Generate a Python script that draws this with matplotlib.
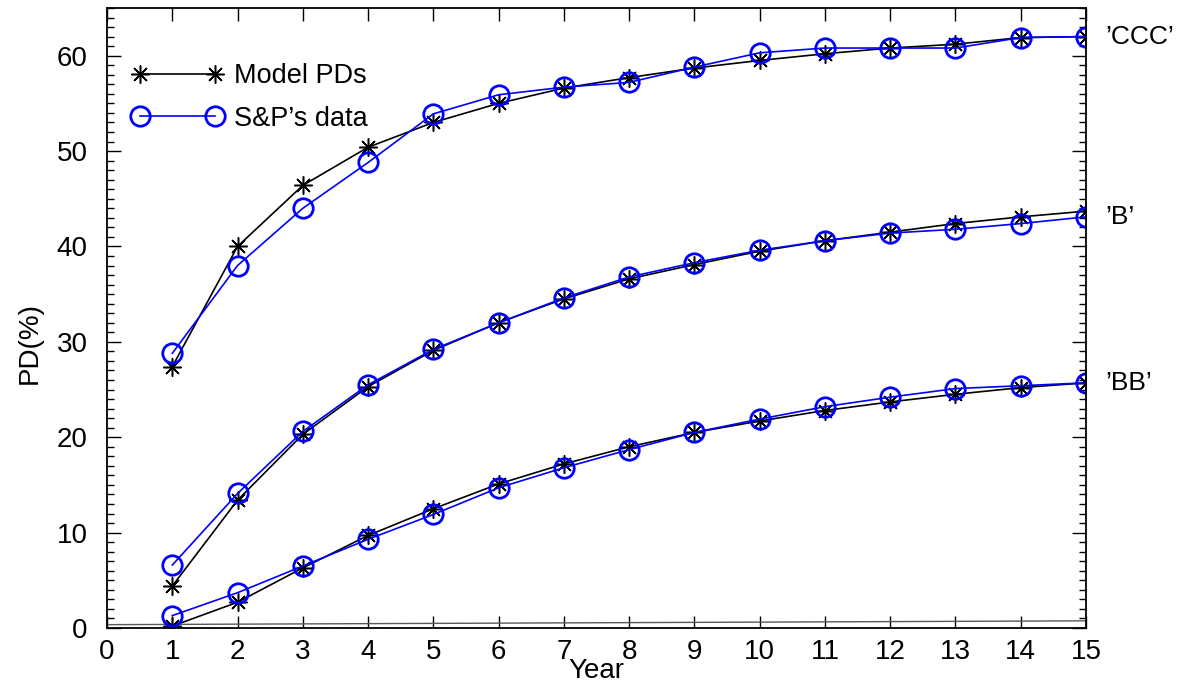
import matplotlib
matplotlib.use('Agg')
import matplotlib.pyplot as plt
from matplotlib.ticker import MultipleLocator

plt.rcParams['font.family'] = ['Liberation Sans', 'DejaVu Sans']

years = list(range(1, 16))

# 'CCC'
ccc_model = [27.4, 40.0, 46.4, 50.4, 53.0, 55.0, 56.6, 57.7, 58.7, 59.5, 60.2, 60.8, 61.2, 61.9, 62.0]
ccc_data = [28.8, 38.0, 44.0, 48.8, 53.9, 55.9, 56.7, 57.2, 58.8, 60.3, 60.8, 60.8, 60.8, 61.9, 62.0]
# 'B'
b_model = [4.4, 13.4, 20.3, 25.3, 29.1, 32.0, 34.5, 36.6, 38.1, 39.5, 40.6, 41.5, 42.4, 43.1, 43.7]
b_data = [6.6, 14.1, 20.6, 25.5, 29.2, 32.0, 34.6, 36.8, 38.3, 39.6, 40.6, 41.4, 41.8, 42.4, 43.1]
# 'BB'
bb_model = [0.2, 2.7, 6.3, 9.7, 12.5, 15.1, 17.2, 19.0, 20.5, 21.7, 22.8, 23.7, 24.5, 25.2, 25.7]
bb_data = [1.3, 3.7, 6.5, 9.3, 11.9, 14.7, 16.8, 18.7, 20.5, 21.9, 23.2, 24.2, 25.1, 25.4, 25.7]

# near-zero baseline along the bottom
base_x = [0, 15]
base_y = [0.35, 0.75]

ratings = ["\u2019CCC\u2019", "\u2019B\u2019", "\u2019BB\u2019"]

fig = plt.figure(figsize=(11.84, 6.93), dpi=100)
ax = fig.add_axes([0.0904, 0.0938, 0.8268, 0.8947])

star = (8, 2, 0)
ax.plot(base_x, base_y, color='0.35', lw=1.0)

model_sets = [ccc_model, b_model, bb_model]
data_sets = [ccc_data, b_data, bb_data]
for i, (m, d) in enumerate(zip(model_sets, data_sets)):
    ax.plot(years, m, color='black', lw=1.2, marker=star, ms=13, mew=1.1,
            label='Model PDs' if i == 0 else None)
    ax.plot(years, d, color='blue', lw=1.2, marker='o', ms=14, mew=2.0,
            mfc='none', mec='blue', label='S&P\u2019s data' if i == 0 else None)
    ax.text(15.3, d[-1], ratings[i], fontsize=19, va='center', ha='left',
            clip_on=False)

ax.set_xlim(0, 15)
ax.set_ylim(0, 65)
ax.set_xticks(range(0, 16))
ax.set_yticks(range(0, 61, 10))
ax.yaxis.set_minor_locator(MultipleLocator(1))

ax.tick_params(axis='x', which='major', direction='in', length=9, width=1,
               top=True, labelsize=20, pad=8)
ax.tick_params(axis='y', which='major', direction='in', length=10, width=1,
               right=True, labelsize=20, pad=14)
ax.tick_params(axis='y', which='minor', direction='in', length=5, width=1,
               right=True)
for s in ax.spines.values():
    s.set_linewidth(1.3)

ax.set_xlabel('Year', fontsize=20)
ax.xaxis.set_label_coords(0.5, -0.048)
ax.set_ylabel('PD(%)', fontsize=20)
ax.yaxis.set_label_coords(-0.066, 0.46)

ax.legend(loc='upper left', bbox_to_anchor=(0.0, 0.95), frameon=False,
          numpoints=2, handlelength=3.4, handletextpad=0.4, fontsize=19.5,
          labelspacing=0.6, borderaxespad=0.5)

fig.savefig('out.png', dpi=100)
